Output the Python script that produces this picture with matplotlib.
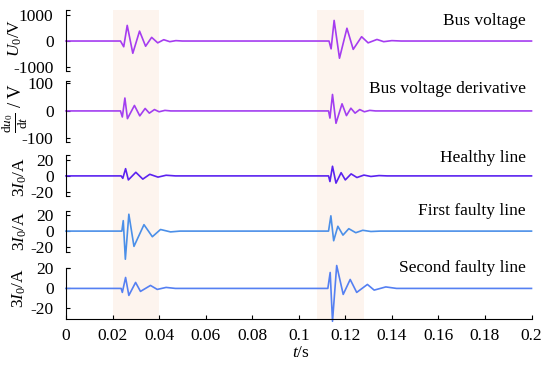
import matplotlib
matplotlib.use("Agg")
import matplotlib.pyplot as plt

plt.rcParams['font.family'] = ['Liberation Serif', 'DejaVu Serif']
plt.rcParams['mathtext.fontset'] = 'custom'
plt.rcParams['mathtext.rm'] = 'Liberation Serif'
plt.rcParams['mathtext.it'] = 'Liberation Serif:italic'
plt.rcParams['axes.unicode_minus'] = False

# ---- data (time in s) ----
# shaded fault windows
windows = [(0.02, 0.04), (0.108, 0.128)]

# bus voltage U0 (V): extrema of the two transients
bus_t1 = [0.0234, 0.0248, 0.0263, 0.0287, 0.0316, 0.0342, 0.0368, 0.0394, 0.0420, 0.0446, 0.0472, 0.0500]
bus_v1 = [0, -220, 600, -470, 380, -200, 140, -70, 50, -25, 15, 0]
bus_t2 = [0.1130, 0.1139, 0.1152, 0.1175, 0.1207, 0.1234, 0.1270, 0.1298, 0.1336, 0.1365, 0.1400, 0.1440]
bus_v2 = [0, -300, 790, -660, 490, -320, 165, -70, 60, -25, 15, 0]

# bus voltage derivative (V)
der_t1 = [0.0234, 0.0242, 0.0253, 0.0264, 0.0294, 0.0317, 0.0340, 0.0358, 0.0380, 0.0400, 0.0425, 0.0450]
der_v1 = [0, -22, 47, -28, 20, -18, 9, -8, 5, -3, 2, 0]
der_t2 = [0.1128, 0.1134, 0.1145, 0.1160, 0.1186, 0.1205, 0.1224, 0.1242, 0.1262, 0.1282, 0.1305, 0.1330]
der_v2 = [0, -26, 60, -45, 26, -17, 10, -8, 5, -3, 2, 0]

# healthy line 3I0 (A)
hl_t1 = [0.0237, 0.0244, 0.0256, 0.0268, 0.0300, 0.0330, 0.0360, 0.0395, 0.0430, 0.0470]
hl_v1 = [0, -3, 9, -5, 4.5, -4, 2, -1.5, 0.8, 0]
hl_t2 = [0.1128, 0.1134, 0.1145, 0.1160, 0.1182, 0.1200, 0.1225, 0.1250, 0.1280, 0.1310, 0.1345, 0.1380]
hl_v2 = [0, -7, 12, -9, 4, -5, 2.5, -2, 1, -0.7, 0.4, 0]

# first faulty line 3I0 (A)
f1_t1 = [0.0240, 0.0246, 0.0255, 0.0270, 0.0292, 0.0335, 0.0371, 0.0406, 0.0449, 0.0490]
f1_v1 = [0, 13, -35, 21, -19, 8, -7, 2, -1, 0]
f1_t2 = [0.1128, 0.1138, 0.1150, 0.1168, 0.1190, 0.1215, 0.1245, 0.1275, 0.1310, 0.1350]
f1_v2 = [0, 19, -12, 6, -5, 3, -2, 1, -0.5, 0]

# second faulty line 3I0 (A)
f2_t1 = [0.0237, 0.0242, 0.0256, 0.0270, 0.0299, 0.0320, 0.0363, 0.0392, 0.0430, 0.0470]
f2_v1 = [0, -4, 11, -7, 6, -3, 3, -1, 1, 0]
f2_t2 = [0.1125, 0.1135, 0.1145, 0.1163, 0.1191, 0.1221, 0.1249, 0.1295, 0.1324, 0.1374, 0.1420]
f2_v2 = [0, 16, -33, 23, -6, 9, -4, 4, -1.7, 1.5, 0]

titles = ['Bus voltage', 'Bus voltage derivative', 'Healthy line',
          'First faulty line', 'Second faulty line']
ylabels = [r'$U_0$/V', r'$\frac{\mathrm{d}u_0}{\mathrm{d}t}$ / V',
           r'$3I_0$/A', r'$3I_0$/A', r'$3I_0$/A']
yticks = [[-1000, 0, 1000], [-100, 0, 100], [-20, 0, 20], [-20, 0, 20], [-20, 0, 20]]
xticks = [0, 0.02, 0.04, 0.06, 0.08, 0.1, 0.12, 0.14, 0.16, 0.18, 0.2]
xtick_labels = ['0', '0.02', '0.04', '0.06', '0.08', '0.1', '0.12', '0.14', '0.16', '0.18', '0.2']

series = [
    (bus_t1, bus_v1, bus_t2, bus_v2),
    (der_t1, der_v1, der_t2, der_v2),
    (hl_t1, hl_v1, hl_t2, hl_v2),
    (f1_t1, f1_v1, f1_t2, f1_v2),
    (f2_t1, f2_v1, f2_t2, f2_v2),
]

# ---- layout (pixels of the 550x367 picture) ----
W, H = 550, 367
X0, X1 = 66, 531.5
panel_px = [(10, 71), (81, 141.7), (155, 196), (211, 252), (268, 319.3)]
ylims = [(-1150, 1190), (-112, 109), (-25, 26), (-26, 25), (-31, 20.5)]
colors = ['#a53cf0', '#a23ef0', '#5b22f0', '#4b8fe8', '#5580f2']
title_base = [25, 93, 161.5, 215, 271.5]
ylabel_pos = [(15, 38), (15.5, 108), (20, 177), (20, 231), (19, 288)]
ylabel_fs = [12.5, 13.5, 12.5, 12.5, 12.5]
shade = '#fdf4ee'
fs = 12.5


def rect(top, bottom):
    return [X0 / W, 1 - bottom / H, (X1 - X0) / W, (bottom - top) / H]


fig = plt.figure(figsize=(5.5, 3.67), dpi=100)

# background axes carrying the shaded windows across all panels
bg = fig.add_axes(rect(panel_px[0][0], panel_px[-1][1]), zorder=0)
bg.set_xlim(0, 0.2)
for a, b in windows:
    bg.axvspan(a, b, color=shade, lw=0)
bg.axis('off')

for i, (ta, va, tb, vb) in enumerate(series):
    ax = fig.add_axes(rect(*panel_px[i]), zorder=1)
    ax.patch.set_alpha(0)
    t = [0] + ta + tb + [0.2]
    v = [0] + va + vb + [0]
    ax.plot(t, v, color=colors[i], lw=1.2, clip_on=False)
    ax.set_xlim(0, 0.2)
    ax.set_ylim(*ylims[i])
    ax.set_yticks(yticks[i])
    ax.set_yticks(list(ylims[i]), minor=True)
    ax.tick_params(axis='y', which='major', direction='in', length=3,
                   width=0.8, pad=9, labelsize=fs)
    ax.tick_params(axis='y', which='minor', direction='in', length=3, width=0.8)
    for s in ['top', 'right']:
        ax.spines[s].set_visible(False)
    ax.spines['left'].set_linewidth(0.8)
    if i < 4:
        ax.spines['bottom'].set_visible(False)
        ax.set_xticks([])
    else:
        ax.set_yticks([ylims[i][1]], minor=True)
        ax.spines['bottom'].set_linewidth(0.8)
        ax.set_xticks(xticks)
        ax.set_xticklabels(xtick_labels)
        ax.tick_params(axis='x', direction='in', length=3, width=0.8,
                       pad=6, labelsize=fs)
    fig.text(526 / W, 1 - title_base[i] / H, titles[i], ha='right',
             va='baseline', fontsize=fs)
    lx, ly = ylabel_pos[i]
    fig.text(lx / W, 1 - ly / H, ylabels[i], rotation=90, ha='center',
             va='center', fontsize=ylabel_fs[i])

fig.text(301 / W, 1 - 353 / H, r'$t$/s', ha='center', va='center', fontsize=fs)

fig.savefig('out.png', dpi=100)
